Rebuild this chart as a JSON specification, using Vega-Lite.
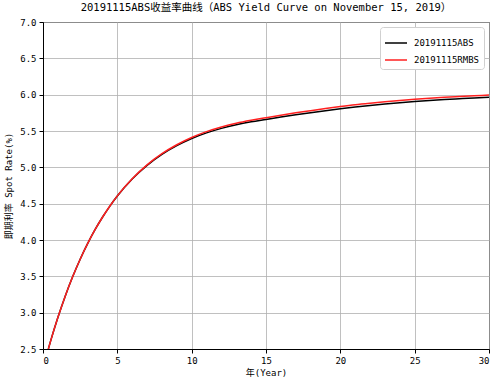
{
  "$schema": "https://vega.github.io/schema/vega-lite/v6.json",
  "autosize": "none",
  "width": 446,
  "height": 327,
  "padding": {"left": 43, "top": 22, "right": 12, "bottom": 35},
  "background": "white",
  "title": {
    "text": "20191115ABS收益率曲线（ABS Yield Curve on November 15, 2019）",
    "font": "DejaVu Sans Mono, Noto Sans CJK SC",
    "fontSize": 10.5,
    "fontWeight": "normal",
    "color": "black",
    "anchor": "middle",
    "frame": "group",
    "offset": 5
  },
  "config": {
    "view": {"stroke": "black", "strokeWidth": 1},
    "font": "DejaVu Sans Mono, Noto Sans CJK SC",
    "axis": {
      "labelFont": "DejaVu Sans Mono, Noto Sans CJK SC",
      "titleFont": "DejaVu Sans Mono, Noto Sans CJK SC",
      "labelFontSize": 9,
      "titleFontSize": 9,
      "titleFontWeight": "normal",
      "labelColor": "black",
      "titleColor": "black",
      "domainColor": "black",
      "tickColor": "black",
      "tickSize": 4,
      "gridColor": "#b0b0b0",
      "gridWidth": 0.8,
      "gridOpacity": 1
    }
  },
  "datasets": {
    "curves": [
      {"year": 0.36, "rate": 2.501, "series": "20191115ABS"},
      {"year": 0.5, "rate": 2.601, "series": "20191115ABS"},
      {"year": 1, "rate": 2.933, "series": "20191115ABS"},
      {"year": 1.5, "rate": 3.231, "series": "20191115ABS"},
      {"year": 2, "rate": 3.497, "series": "20191115ABS"},
      {"year": 2.5, "rate": 3.736, "series": "20191115ABS"},
      {"year": 3, "rate": 3.95, "series": "20191115ABS"},
      {"year": 3.5, "rate": 4.142, "series": "20191115ABS"},
      {"year": 4, "rate": 4.313, "series": "20191115ABS"},
      {"year": 4.5, "rate": 4.467, "series": "20191115ABS"},
      {"year": 5, "rate": 4.605, "series": "20191115ABS"},
      {"year": 6, "rate": 4.839, "series": "20191115ABS"},
      {"year": 7, "rate": 5.027, "series": "20191115ABS"},
      {"year": 8, "rate": 5.178, "series": "20191115ABS"},
      {"year": 9, "rate": 5.298, "series": "20191115ABS"},
      {"year": 10, "rate": 5.396, "series": "20191115ABS"},
      {"year": 11, "rate": 5.474, "series": "20191115ABS"},
      {"year": 12, "rate": 5.536, "series": "20191115ABS"},
      {"year": 13, "rate": 5.586, "series": "20191115ABS"},
      {"year": 14, "rate": 5.626, "series": "20191115ABS"},
      {"year": 15, "rate": 5.659, "series": "20191115ABS"},
      {"year": 16, "rate": 5.692, "series": "20191115ABS"},
      {"year": 17, "rate": 5.723, "series": "20191115ABS"},
      {"year": 18, "rate": 5.752, "series": "20191115ABS"},
      {"year": 19, "rate": 5.78, "series": "20191115ABS"},
      {"year": 20, "rate": 5.806, "series": "20191115ABS"},
      {"year": 21, "rate": 5.83, "series": "20191115ABS"},
      {"year": 22, "rate": 5.851, "series": "20191115ABS"},
      {"year": 23, "rate": 5.87, "series": "20191115ABS"},
      {"year": 24, "rate": 5.888, "series": "20191115ABS"},
      {"year": 25, "rate": 5.905, "series": "20191115ABS"},
      {"year": 26, "rate": 5.92, "series": "20191115ABS"},
      {"year": 27, "rate": 5.933, "series": "20191115ABS"},
      {"year": 28, "rate": 5.944, "series": "20191115ABS"},
      {"year": 29, "rate": 5.954, "series": "20191115ABS"},
      {"year": 30, "rate": 5.963, "series": "20191115ABS"},
      {"year": 0.36, "rate": 2.501, "series": "20191115RMBS"},
      {"year": 0.5, "rate": 2.601, "series": "20191115RMBS"},
      {"year": 1, "rate": 2.933, "series": "20191115RMBS"},
      {"year": 1.5, "rate": 3.231, "series": "20191115RMBS"},
      {"year": 2, "rate": 3.497, "series": "20191115RMBS"},
      {"year": 2.5, "rate": 3.736, "series": "20191115RMBS"},
      {"year": 3, "rate": 3.95, "series": "20191115RMBS"},
      {"year": 3.5, "rate": 4.142, "series": "20191115RMBS"},
      {"year": 4, "rate": 4.313, "series": "20191115RMBS"},
      {"year": 4.5, "rate": 4.468, "series": "20191115RMBS"},
      {"year": 5, "rate": 4.607, "series": "20191115RMBS"},
      {"year": 6, "rate": 4.843, "series": "20191115RMBS"},
      {"year": 7, "rate": 5.034, "series": "20191115RMBS"},
      {"year": 8, "rate": 5.188, "series": "20191115RMBS"},
      {"year": 9, "rate": 5.311, "series": "20191115RMBS"},
      {"year": 10, "rate": 5.411, "series": "20191115RMBS"},
      {"year": 11, "rate": 5.491, "series": "20191115RMBS"},
      {"year": 12, "rate": 5.555, "series": "20191115RMBS"},
      {"year": 13, "rate": 5.607, "series": "20191115RMBS"},
      {"year": 14, "rate": 5.648, "series": "20191115RMBS"},
      {"year": 15, "rate": 5.683, "series": "20191115RMBS"},
      {"year": 16, "rate": 5.718, "series": "20191115RMBS"},
      {"year": 17, "rate": 5.75, "series": "20191115RMBS"},
      {"year": 18, "rate": 5.78, "series": "20191115RMBS"},
      {"year": 19, "rate": 5.809, "series": "20191115RMBS"},
      {"year": 20, "rate": 5.836, "series": "20191115RMBS"},
      {"year": 21, "rate": 5.861, "series": "20191115RMBS"},
      {"year": 22, "rate": 5.882, "series": "20191115RMBS"},
      {"year": 23, "rate": 5.901, "series": "20191115RMBS"},
      {"year": 24, "rate": 5.919, "series": "20191115RMBS"},
      {"year": 25, "rate": 5.936, "series": "20191115RMBS"},
      {"year": 26, "rate": 5.951, "series": "20191115RMBS"},
      {"year": 27, "rate": 5.964, "series": "20191115RMBS"},
      {"year": 28, "rate": 5.975, "series": "20191115RMBS"},
      {"year": 29, "rate": 5.985, "series": "20191115RMBS"},
      {"year": 30, "rate": 5.995, "series": "20191115RMBS"}
    ]
  },
  "data": {"name": "curves"},
  "mark": {"type": "line", "strokeWidth": 1.5, "clip": true, "interpolate": "monotone"},
  "encoding": {
    "x": {
      "field": "year",
      "type": "quantitative",
      "scale": {"domain": [0, 30], "nice": false, "zero": false},
      "axis": {"values": [0, 5, 10, 15, 20, 25, 30], "title": "年(Year)", "titlePadding": 3, "labelPadding": 3}
    },
    "y": {
      "field": "rate",
      "type": "quantitative",
      "scale": {"domain": [2.5, 7.0], "nice": false, "zero": false},
      "axis": {"values": [2.5, 3.0, 3.5, 4.0, 4.5, 5.0, 5.5, 6.0, 6.5, 7.0], "format": ".1f", "title": "即期利率 Spot Rate(%)", "titlePadding": 6, "labelPadding": 3}
    },
    "color": {
      "field": "series",
      "type": "nominal",
      "scale": {"domain": ["20191115ABS", "20191115RMBS"], "range": ["black", "#ff2020"]},
      "legend": {
        "title": null,
        "orient": "top-right",
        "offset": 5,
        "symbolType": "stroke",
        "symbolSize": 484,
        "symbolStrokeWidth": 1.5,
        "labelFontSize": 9,
        "labelOffset": 6,
        "labelColor": "black",
        "labelFont": "DejaVu Sans Mono, Noto Sans CJK SC",
        "fillColor": "white",
        "strokeColor": "#d0d0d0",
        "padding": 4,
        "cornerRadius": 3,
        "rowPadding": -9
      }
    }
  }
}
